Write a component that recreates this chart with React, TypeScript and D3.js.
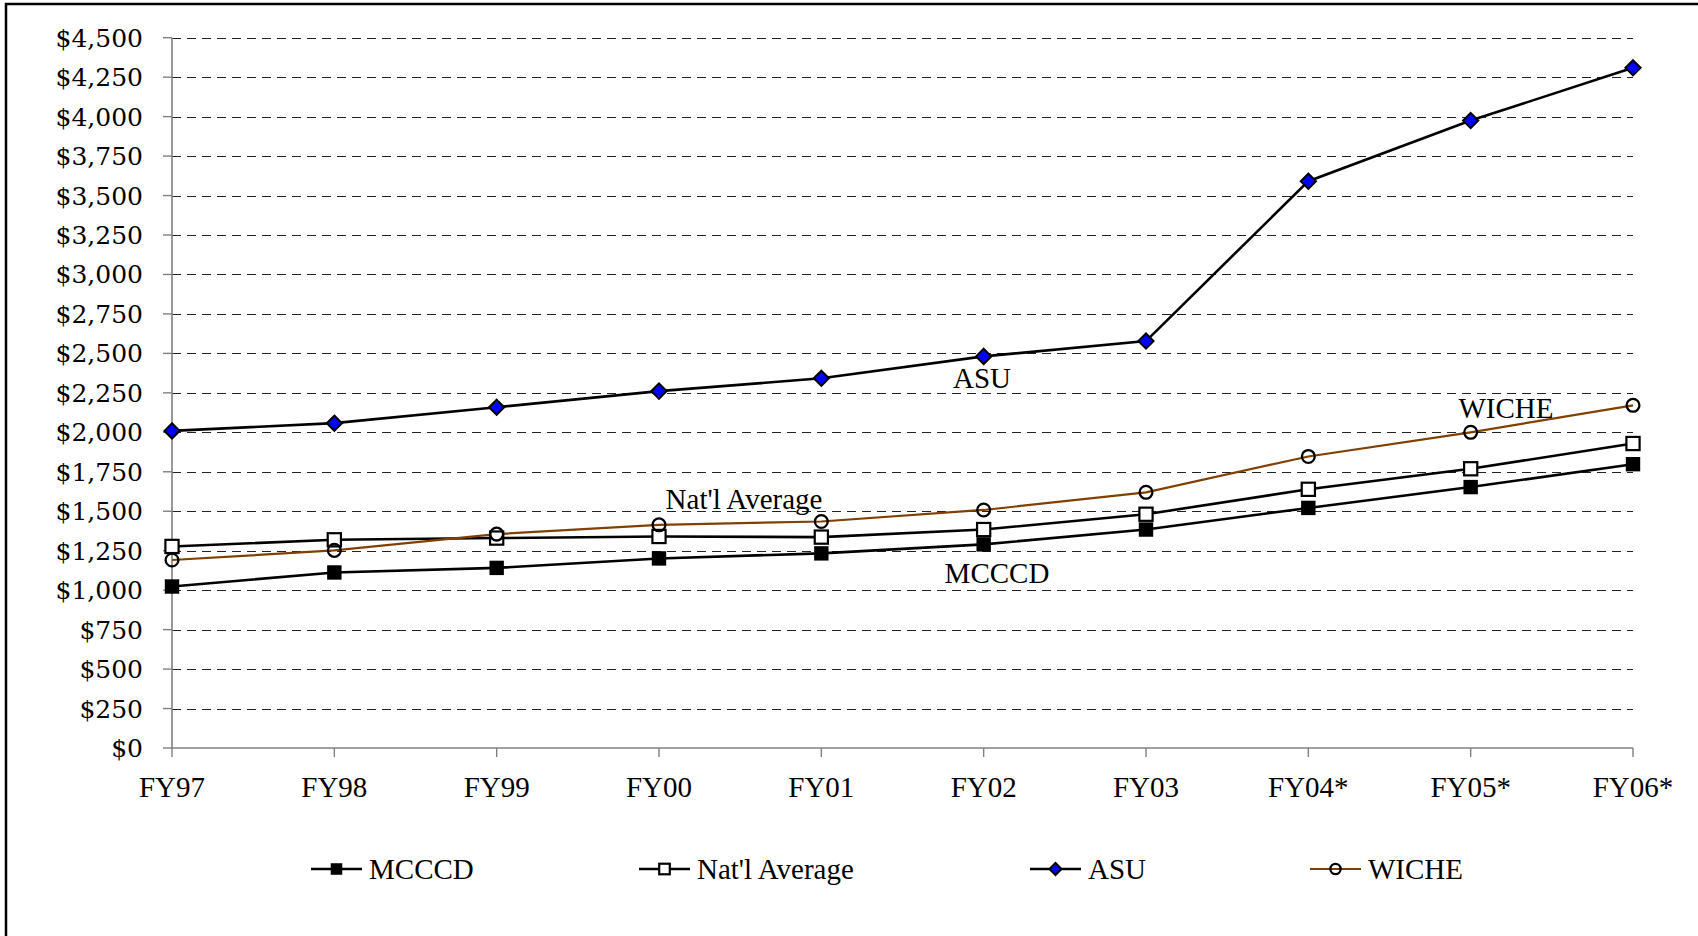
import React from "react";
import * as d3 from "d3";

const categories = ["FY97", "FY98", "FY99", "FY00", "FY01", "FY02", "FY03", "FY04*", "FY05*", "FY06*"];
const mcccd = [1023, 1112, 1141, 1201, 1233, 1290, 1384, 1521, 1653, 1798];
const natlAvg = [1277, 1319, 1330, 1340, 1336, 1384, 1481, 1639, 1769, 1929];
const asu = [2009, 2058, 2159, 2261, 2342, 2481, 2578, 3591, 3975, 4309];
const wiche = [1191, 1252, 1355, 1414, 1435, 1508, 1620, 1847, 2000, 2171];
const yTicks = d3.range(0, 4501, 250);
const seriesNames = ["MCCCD", "Nat'l Average", "ASU", "WICHE"];

const W = 1698;
const H = 936;
const X0 = 172;
const X1 = 1633;
const Y0 = 748;
const Y1 = 37.7;

const LABEL_FONT = "'Liberation Serif', 'Times New Roman', serif";
const TICK_FONT = "'DejaVu Serif', serif";
const BROWN = "#804000";

type MarkerKind = "filledSquare" | "openSquare" | "diamond" | "circle";

function Marker({ kind, x, y, s = 1 }: { kind: MarkerKind; x: number; y: number; s?: number }) {
  if (kind === "filledSquare") {
    const h = 7.2 * s;
    return <rect x={x - h} y={y - h} width={2 * h} height={2 * h} fill="#000" />;
  }
  if (kind === "openSquare") {
    const h = 6.6 * s;
    return <rect x={x - h} y={y - h} width={2 * h} height={2 * h} fill="#fff" stroke="#000" strokeWidth={2.2} />;
  }
  if (kind === "diamond") {
    const h = 7.6 * s;
    return (
      <path
        d={`M${x},${y - h}L${x + h},${y}L${x},${y + h}L${x - h},${y}Z`}
        fill="#0000ff"
        stroke="#000"
        strokeWidth={2}
      />
    );
  }
  return <circle cx={x} cy={y} r={6.4 * s} fill="none" stroke="#000" strokeWidth={2.3} />;
}

export default function App() {
  const x = d3.scalePoint<string>().domain(categories).range([X0, X1]);
  const y = d3.scaleLinear().domain([0, 4500]).range([Y0, Y1]);
  const fmt = d3.format(",");

  const series = [
    { name: seriesNames[0], values: mcccd, color: "#000", width: 2.6, marker: "filledSquare" as MarkerKind },
    { name: seriesNames[1], values: natlAvg, color: "#000", width: 2.6, marker: "openSquare" as MarkerKind },
    { name: seriesNames[2], values: asu, color: "#000", width: 2.6, marker: "diamond" as MarkerKind },
    { name: seriesNames[3], values: wiche, color: BROWN, width: 2.2, marker: "circle" as MarkerKind },
  ];

  const line = d3
    .line<number>()
    .x((_, i) => x(categories[i]) as number)
    .y((d) => y(d));

  const legendItems = [
    { lx: 311, tx: 369 },
    { lx: 639, tx: 697 },
    { lx: 1030, tx: 1088 },
    { lx: 1310, tx: 1368 },
  ];

  const annotations = [
    { text: "ASU", x: 982, y: 388 },
    { text: "Nat'l Average", x: 744, y: 509 },
    { text: "MCCCD", x: 997, y: 583 },
    { text: "WICHE", x: 1506, y: 418 },
  ];

  return (
    <svg
      width={W}
      height={H}
      viewBox={`0 0 ${W} ${H}`}
      style={{ position: "absolute", left: 0, top: 0, background: "#fff" }}
    >
      <rect x={0} y={0} width={W} height={H} fill="#fff" />
      <rect x={6} y={4} width={W + 50} height={H + 50} fill="none" stroke="#000" strokeWidth={2.5} />

      {/* gridlines */}
      {yTicks
        .filter((t) => t > 0)
        .map((t) => (
          <line
            key={"g" + t}
            x1={X0}
            x2={X1}
            y1={Math.round(y(t)) + 0.5}
            y2={Math.round(y(t)) + 0.5}
            stroke="#222"
            strokeWidth={1}
            strokeDasharray="9,6"
          />
        ))}

      {/* axes */}
      <line x1={X0} x2={X0} y1={Y1} y2={Y0} stroke="#808080" strokeWidth={1.6} />
      <line x1={X0} x2={X1} y1={Y0} y2={Y0} stroke="#808080" strokeWidth={1.6} />
      {yTicks.map((t) => (
        <line key={"yt" + t} x1={X0 - 9} x2={X0} y1={y(t)} y2={y(t)} stroke="#808080" strokeWidth={1.4} />
      ))}
      {categories.map((c) => (
        <line
          key={"xt" + c}
          x1={x(c) as number}
          x2={x(c) as number}
          y1={Y0}
          y2={Y0 + 9}
          stroke="#808080"
          strokeWidth={1.4}
        />
      ))}

      {/* y labels */}
      {yTicks.map((t) => (
        <text
          key={"yl" + t}
          x={143}
          y={y(t)}
          dy="0.36em"
          textAnchor="end"
          fontFamily={TICK_FONT}
          fontSize={25}
          fill="#000"
        >
          {"$" + fmt(t)}
        </text>
      ))}

      {/* x labels */}
      {categories.map((c) => (
        <text
          key={"xl" + c}
          x={x(c) as number}
          y={797}
          textAnchor="middle"
          fontFamily={LABEL_FONT}
          fontSize={29}
          fill="#000"
        >
          {c}
        </text>
      ))}

      {/* series */}
      {series.map((s) => (
        <path key={"l" + s.name} d={line(s.values) || ""} fill="none" stroke={s.color} strokeWidth={s.width} />
      ))}
      {series.map((s) =>
        s.values.map((v, i) => (
          <Marker key={s.name + i} kind={s.marker} x={x(categories[i]) as number} y={y(v)} />
        ))
      )}

      {/* annotations */}
      {annotations.map((a) => (
        <text key={a.text} x={a.x} y={a.y} textAnchor="middle" fontFamily={LABEL_FONT} fontSize={29} fill="#000">
          {a.text}
        </text>
      ))}

      {/* legend */}
      {series.map((s, i) => {
        const it = legendItems[i];
        const ly = 869;
        return (
          <g key={"lg" + s.name}>
            <line x1={it.lx} x2={it.lx + 51} y1={ly} y2={ly} stroke={s.color} strokeWidth={s.width} />
            <Marker kind={s.marker} x={it.lx + 25.5} y={ly} s={0.8} />
            <text x={it.tx} y={ly + 10} fontFamily={LABEL_FONT} fontSize={29} fill="#000">
              {s.name}
            </text>
          </g>
        );
      })}
    </svg>
  );
}
